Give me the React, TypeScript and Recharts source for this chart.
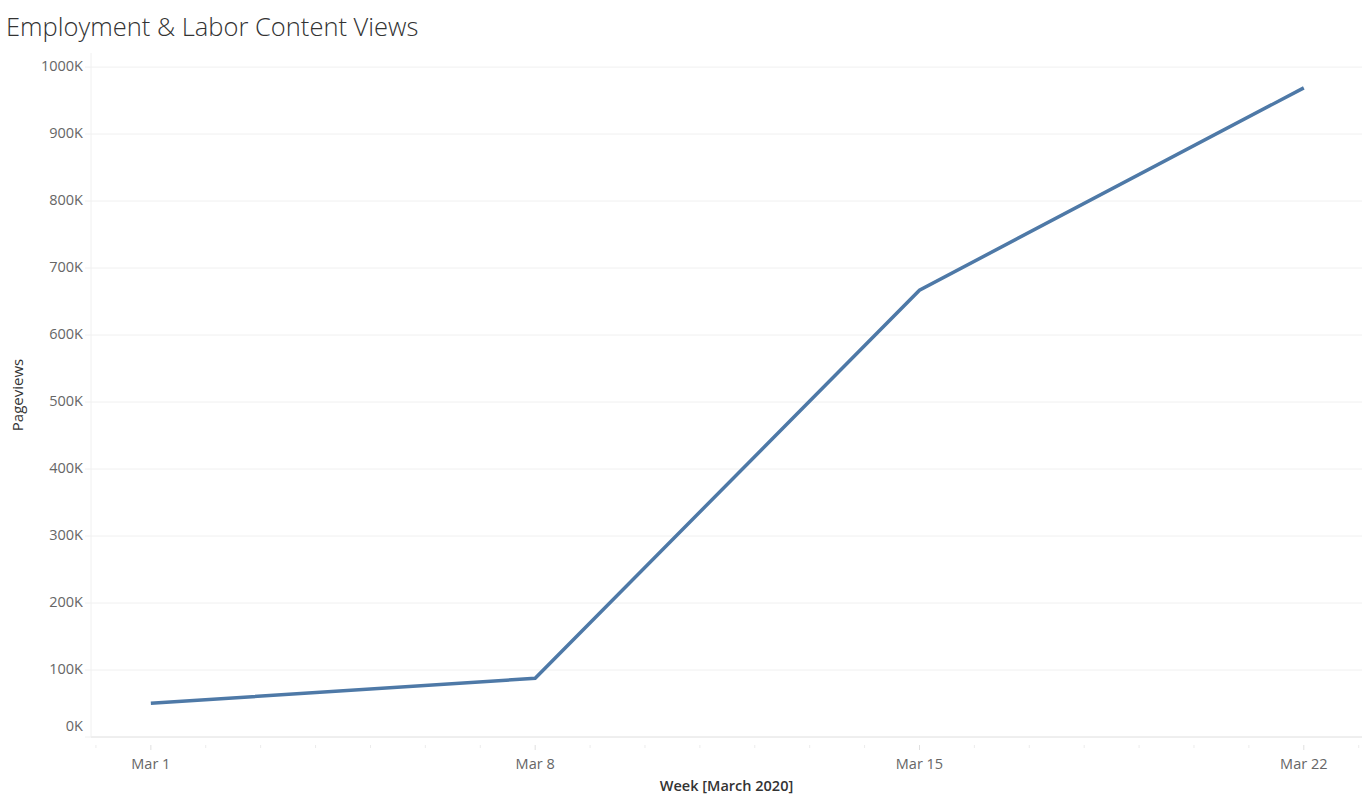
import React from "react";
import { LineChart, Line, XAxis, YAxis, CartesianGrid, Label } from "recharts";

const weekLabels = ["Mar 1", "Mar 8", "Mar 15", "Mar 22"];
const dayOffsets = [0, 7, 14, 21];
const pageviews = [50300, 87600, 667000, 969000];
const yTicks = [0, 100000, 200000, 300000, 400000, 500000, 600000, 700000, 800000, 900000, 1000000];
const dayTicks = Array.from({ length: 24 }, (_, i) => i - 1);

const data = dayOffsets.map((d, i) => ({ day: d, label: weekLabels[i], views: pageviews[i] }));

const FONT = "'Open Sans', 'Noto Sans', sans-serif";

const XTick = (props: any) => {
  const { x, y, payload } = props;
  const idx = dayOffsets.indexOf(payload.value);
  const major = idx >= 0;
  return (
    <g>
      <line x1={x} x2={x} y1={y} y2={y + (major ? 5 : 3)} stroke={major ? "#e0e0e0" : "#ececec"} strokeWidth={1} />
      {major && (
        <text x={x} y={y + 20} textAnchor="middle" fill="#666" fontSize={14.5} fontFamily={FONT} dominantBaseline="middle">
          {weekLabels[idx]}
        </text>
      )}
    </g>
  );
};

const YTick = (props: any) => {
  const { x, y, payload } = props;
  const dy = payload.value === 0 ? -10 : 0;
  return (
    <text x={x} y={y + dy} textAnchor="end" fill="#666" fontSize={14.5} fontFamily={FONT} dominantBaseline="middle">
      {`${Math.round(payload.value / 1000)}K`}
    </text>
  );
};

export default function App() {
  return (
    <div style={{ position: "absolute", left: 0, top: 0, width: 1363, height: 805, background: "#fff" }}>
      <div
        style={{
          position: "absolute",
          left: 6,
          top: 8,
          fontFamily: FONT,
          fontWeight: 300,
          fontSize: 25.5,
          color: "#333",
          whiteSpace: "nowrap",
          lineHeight: "36px",
        }}
      >
        Employment &amp; Labor Content Views
      </div>
      <LineChart width={1363} height={805} data={data} margin={{ top: 53, right: 1, left: 0, bottom: 0 }}>
        <CartesianGrid vertical={false} stroke="#f0f0f0" horizontalValues={yTicks} />
        <XAxis
          dataKey="day"
          type="number"
          domain={[-1.09, 22.06]}
          ticks={dayTicks}
          interval={0}
          allowDataOverflow
          height={68}
          axisLine={{ stroke: "#e6e6e6" }}
          tickLine={false}
          tick={<XTick />}
        >
          <Label
            value="Week [March 2020]"
            position="insideBottom"
            offset={14}
            style={{ fontFamily: FONT, fontSize: 14.5, fontWeight: 600, fill: "#333" }}
          />
        </XAxis>
        <YAxis
          type="number"
          domain={[0, 1021000]}
          ticks={yTicks}
          interval={0}
          allowDataOverflow
          width={91}
          axisLine={{ stroke: "#f0f0f0" }}
          tickLine={{ stroke: "#f0f0f0" }}
          tickSize={6}
          tickMargin={2}
          tick={<YTick />}
        >
          <Label
            value="Pageviews"
            angle={-90}
            position="insideLeft"
            offset={18}
            style={{ fontFamily: FONT, fontSize: 15, fill: "#333", textAnchor: "middle" }}
          />
        </YAxis>
        <Line
          type="linear"
          dataKey="views"
          stroke="#4e79a7"
          strokeWidth={3.5}
          dot={false}
          activeDot={false}
          isAnimationActive={false}
        />
      </LineChart>
    </div>
  );
}
